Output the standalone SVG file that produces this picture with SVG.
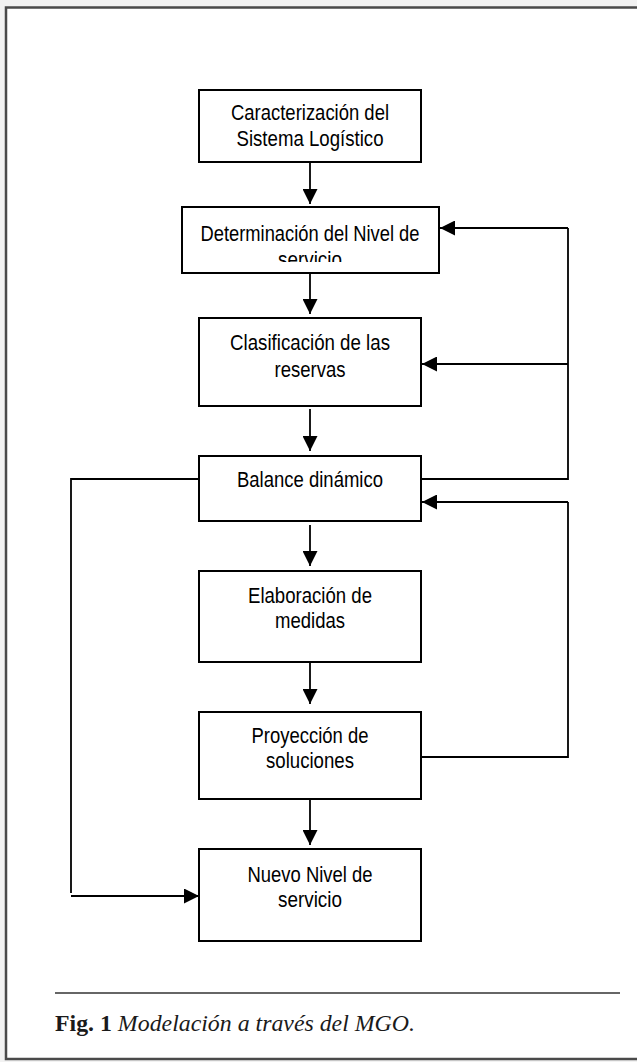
<svg xmlns="http://www.w3.org/2000/svg" width="637" height="1062" viewBox="0 0 637 1062">
  <style>
    .box { fill: #ffffff; stroke: #000000; stroke-width: 2; }
    .lbl { font-family: "Liberation Sans", Arial, sans-serif; font-size: 22px; fill: #000000; text-anchor: middle; }
    .conn { fill: none; stroke: #000000; stroke-width: 1.8; }
    .cap { font-family: "Liberation Serif", "Times New Roman", serif; font-size: 23px; fill: #1a1a1a; }
  </style>
  <defs>
    <marker id="arr" markerUnits="userSpaceOnUse" markerWidth="15" markerHeight="15" viewBox="0 0 14 14" refX="14" refY="7" orient="auto">
      <path d="M0,0 L14,7 L0,14 Z" fill="#000000"/>
    </marker>
    <clipPath id="clipB2">
      <rect x="183" y="208" width="255" height="54"/>
    </clipPath>
  </defs>

  <!-- page frame -->
  <rect x="0" y="0" width="637" height="1062" fill="#f2f2f2"/>
  <rect x="6" y="7.5" width="700" height="1051.5" fill="#ffffff" stroke="#4a4a4a" stroke-width="2.5"/>

  <g id="connectors">
    <line class="conn" x1="310" y1="162" x2="310" y2="204" marker-end="url(#arr)"/>
    <line class="conn" x1="310" y1="273" x2="310" y2="314" marker-end="url(#arr)"/>
    <line class="conn" x1="310" y1="409" x2="310" y2="451" marker-end="url(#arr)"/>
    <line class="conn" x1="310" y1="525" x2="310" y2="566" marker-end="url(#arr)"/>
    <line class="conn" x1="310" y1="662" x2="310" y2="704" marker-end="url(#arr)"/>
    <line class="conn" x1="310" y1="799" x2="310" y2="845" marker-end="url(#arr)"/>
    <!-- upper feedback loop from Balance dinámico -->
    <polyline class="conn" points="421,479 568,479 568,228"/>
    <line class="conn" x1="568" y1="228" x2="440" y2="228" marker-end="url(#arr)"/>
    <line class="conn" x1="568" y1="364" x2="422" y2="364" marker-end="url(#arr)"/>
    <!-- lower feedback loop from Proyección de soluciones -->
    <polyline class="conn" points="421,757 568,757 568,502" />
    <line class="conn" x1="568" y1="502" x2="422" y2="502" marker-end="url(#arr)"/>
    <!-- left bypass to Nuevo Nivel de servicio -->
    <polyline class="conn" points="199,479 71,479 71,893"/>
    <line class="conn" x1="71" y1="896" x2="199" y2="896" marker-end="url(#arr)"/>
  </g>

  <g id="n1">
    <rect class="box" x="199" y="90" width="222" height="72"/>
    <text class="lbl" x="310" y="120" textLength="158" lengthAdjust="spacingAndGlyphs">Caracterización del</text>
    <text class="lbl" x="310" y="146" textLength="147" lengthAdjust="spacingAndGlyphs">Sistema Logístico</text>
  </g>
  <g id="n2">
    <rect class="box" x="182" y="207" width="257" height="66"/>
    <g clip-path="url(#clipB2)">
      <text class="lbl" x="310" y="241" textLength="219" lengthAdjust="spacingAndGlyphs">Determinación del Nivel de</text>
      <text class="lbl" x="310" y="267" textLength="64" lengthAdjust="spacingAndGlyphs">servicio</text>
    </g>
  </g>
  <g id="n3">
    <rect class="box" x="199" y="318" width="222" height="88"/>
    <text class="lbl" x="310" y="350" textLength="160" lengthAdjust="spacingAndGlyphs">Clasificación de las</text>
    <text class="lbl" x="310" y="377" textLength="71" lengthAdjust="spacingAndGlyphs">reservas</text>
  </g>
  <g id="n4">
    <rect class="box" x="199" y="456" width="222" height="65"/>
    <text class="lbl" x="310" y="487" textLength="146" lengthAdjust="spacingAndGlyphs">Balance dinámico</text>
  </g>
  <g id="n5">
    <rect class="box" x="199" y="571" width="222" height="91"/>
    <text class="lbl" x="310" y="603" textLength="124" lengthAdjust="spacingAndGlyphs">Elaboración de</text>
    <text class="lbl" x="310" y="628" textLength="70" lengthAdjust="spacingAndGlyphs">medidas</text>
  </g>
  <g id="n6">
    <rect class="box" x="199" y="712" width="222" height="87"/>
    <text class="lbl" x="310" y="743" textLength="117" lengthAdjust="spacingAndGlyphs">Proyección de</text>
    <text class="lbl" x="310" y="768" textLength="88" lengthAdjust="spacingAndGlyphs">soluciones</text>
  </g>
  <g id="n7">
    <rect class="box" x="199" y="849" width="222" height="92"/>
    <text class="lbl" x="310" y="882" textLength="125" lengthAdjust="spacingAndGlyphs">Nuevo Nivel de</text>
    <text class="lbl" x="310" y="907" textLength="64" lengthAdjust="spacingAndGlyphs">servicio</text>
  </g>

  <g id="caption">
    <line x1="55" y1="993" x2="620" y2="993" stroke="#333333" stroke-width="1.5"/>
    <text class="cap" x="55" y="1031" textLength="360" lengthAdjust="spacingAndGlyphs"><tspan font-weight="bold">Fig. 1</tspan> <tspan font-style="italic">Modelación a través del MGO.</tspan></text>
  </g>
</svg>
